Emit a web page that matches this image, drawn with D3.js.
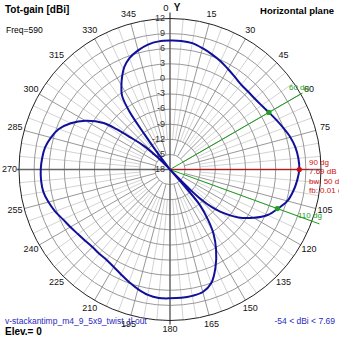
<!DOCTYPE html>
<html><head><meta charset="utf-8">
<script src="https://cdn.jsdelivr.net/npm/d3@7"></script>
<style>html,body{margin:0;padding:0;background:#fff;}svg{display:block;font-family:"Liberation Sans",Arial,sans-serif;}</style>
</head><body>
<svg id="c" width="339" height="339"></svg>
<script>
// ---- data ----
const angles = [0,5,10,15,20,25,30,35,40,45,50,55,60,65,70,75,80,85,90,95,100,105,110,115,120,125,130,132,134,135,136,137,138,139,140,143,146,150,155,160,165,170,175,180,185,190,195,200,205,210,215,220,225,230,235,240,245,250,255,260,265,270,275,280,285,290,295,300,305,307,309,312,314,315.5,317,318,320,322,323,324,325,327,330,333,336,340,345,350,355];
const gains = [7.62,7.65,7.5,6.95,6.35,5.75,5.05,4.45,4.0,3.9,3.95,4.2,4.69,5.3,6.0,6.75,7.3,7.6,7.69,7.35,6.85,6.15,4.8,3.4,1.2,-1.4,-5.0,-6.8,-9.8,-13,-20,-54,-20,-13,-8.7,-5.4,-2.5,0.3,3.4,6.0,7.2,7.5,7.6,7.6,7.62,7.3,6.6,5.8,5.0,4.35,3.95,3.85,3.8,4.0,4.35,4.85,5.45,6.3,7.0,7.55,7.7,7.68,7.5,7.2,6.5,5.5,3.75,1.4,-1.9,-4.7,-7.8,-11,-14,-17,-30,-54,-30,-19,-14,-9.5,-4,-0.5,1.3,2.9,4.3,5.55,6.5,7.2,7.55];
const ringValues = [-15,-12,-9,-6,-3,0,3,6,9];
const radialLabels = [12,9,6,3,0,-3,-6,-9,-12,-15,-18];
const angleLabels = [15,30,45,60,75,105,120,135,150,165,180,195,210,225,240,255,270,285,300,315,330,345];
const markerAngles = [60,110];
const markerGains = [4.69,4.69];
const mainAngle = 90, mainGain = 7.69;
const infoLines = ["90 dg","7.69 dB","bw: 50 dg","fb: 0.01 dB"];

// ---- drawing ----
const svg = d3.select("#c");
const cx = 170, cy = 169.5, R = 151;
const r = d3.scaleLinear().domain([-18,12]).range([0,R]).clamp(true);
const g = svg.append("g").attr("transform",`translate(${cx},${cy})`);
const rad = a => a*Math.PI/180;
const px = (a,rr) => rr*Math.sin(rad(a));
const py = (a,rr) => -rr*Math.cos(rad(a));

// minor spokes every 5 deg
for(let a=0;a<360;a+=5){
  if(a%15===0) continue;
  g.append("line").attr("x1",px(a,r(-12))).attr("y1",py(a,r(-12)))
   .attr("x2",px(a,R)).attr("y2",py(a,R)).attr("stroke","#c8c8c8").attr("stroke-width",0.8);
}
// rings
g.selectAll("circle.ring").data(ringValues).join("circle")
 .attr("r",d=>r(d)).attr("fill","none").attr("stroke","#8c8c8c").attr("stroke-width",0.9);
// major spokes every 15
for(let a=0;a<360;a+=15){
  if(a%90===0) continue;
  g.append("line").attr("x1",px(a,r(-15))).attr("y1",py(a,r(-15)))
   .attr("x2",px(a,R)).attr("y2",py(a,R)).attr("stroke","#8c8c8c").attr("stroke-width",0.9);
}
// main axes
g.append("line").attr("x1",0).attr("y1",-R-6).attr("x2",0).attr("y2",R+4).attr("stroke","#666").attr("stroke-width",1.5);
g.append("line").attr("x1",-R-2).attr("y1",0).attr("x2",R).attr("y2",0).attr("stroke","#666").attr("stroke-width",1.5);
// outer circle
g.append("circle").attr("r",R).attr("fill","none").attr("stroke","#222").attr("stroke-width",1);

// radial labels
g.selectAll("text.rl").data(radialLabels).join("text")
 .attr("x",-5).attr("y",d=>-r(d)).attr("text-anchor","end").attr("dominant-baseline","middle")
 .attr("font-size",9).attr("fill","#333").text(d=>d);
// angle labels
g.selectAll("text.al").data(angleLabels).join("text")
 .attr("x",d=>px(d,R+9.5)).attr("y",d=>py(d,R+9.5)).attr("text-anchor","middle").attr("dominant-baseline","middle")
 .attr("font-size",9).attr("fill","#111").text(d=>d);
g.append("text").attr("x",-4).attr("y",-R-8).attr("text-anchor","middle").attr("font-size",9.5).attr("fill","#111").text("0");
g.append("text").attr("x",7).attr("y",-R-8).attr("text-anchor","middle").attr("font-size",10).attr("font-weight","bold").attr("fill","#111").text("Y");

// green marker lines
const green = "#1f9f1f", red = "#d01010";
g.append("line").attr("x1",0).attr("y1",0).attr("x2",px(60,R+2)).attr("y2",py(60,R+2)).attr("stroke",green).attr("stroke-width",1);
g.append("line").attr("x1",0).attr("y1",0).attr("x2",px(110,R+8)).attr("y2",py(110,R+8)).attr("stroke",green).attr("stroke-width",1);
g.append("line").attr("x1",0).attr("y1",0).attr("x2",139).attr("y2",0).attr("stroke",red).attr("stroke-width",1);

// pattern
const pts = angles.map((a,i)=>[rad(a), r(gains[i])]);
const line = d3.lineRadial().angle(d=>d[0]).radius(d=>d[1]).curve(d3.curveCatmullRomClosed.alpha(0.5));
g.append("path").attr("d",line(pts)).attr("fill","none").attr("stroke","#10109a").attr("stroke-width",2);

// markers
markerAngles.forEach((a,i)=>{
  g.append("circle").attr("cx",px(a,r(markerGains[i]))).attr("cy",py(a,r(markerGains[i]))).attr("r",2.6).attr("fill",green);
});
g.append("circle").attr("cx",px(mainAngle,r(mainGain))).attr("cy",py(mainAngle,r(mainGain))).attr("r",2.6).attr("fill",red);

// marker labels
svg.append("text").attr("x",289).attr("y",90).attr("font-size",8).attr("fill",green).text("60 dg");
svg.append("text").attr("x",298).attr("y",218).attr("font-size",8).attr("fill",green).text("110 dg");
infoLines.forEach((t,i)=>{
  svg.append("text").attr("x",309).attr("y",165+i*9.3).attr("font-size",8).attr("fill",red).text(t);
});

// titles
svg.append("text").attr("x",5).attr("y",13).attr("font-size",10).attr("font-weight","bold").attr("fill","#000").text("Tot-gain [dBi]");
svg.append("text").attr("x",334).attr("y",14).attr("text-anchor","end").attr("font-size",9.5).attr("font-weight","bold").attr("fill","#000").text("Horizontal plane");
svg.append("text").attr("x",6).attr("y",33).attr("font-size",8.5).attr("fill","#000").text("Freq=590");
svg.append("text").attr("x",5).attr("y",324).attr("font-size",8.5).attr("fill","#2a2ac0").text("v-stackantimp_m4_9_5x9_twist_tl.out");
svg.append("text").attr("x",335).attr("y",324).attr("text-anchor","end").attr("font-size",8.5).attr("fill","#2a2ac0").text("-54 < dBi < 7.69");
svg.append("text").attr("x",5).attr("y",335).attr("font-size",10).attr("font-weight","bold").attr("fill","#000").text("Elev.= 0");
</script>
</body></html>
